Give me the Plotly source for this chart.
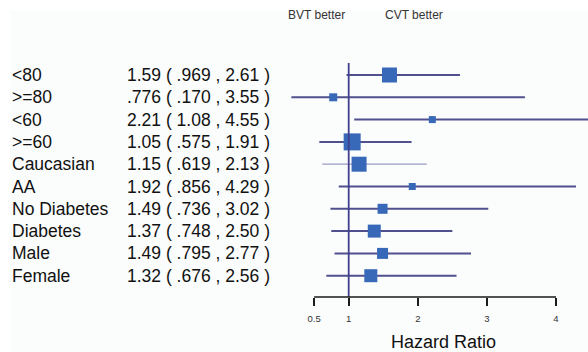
import plotly.graph_objects as go

# ---- data ----
labels = ["<80", ">=80", "<60", ">=60", "Caucasian", "AA",
          "No Diabetes", "Diabetes", "Male", "Female"]
hr = [1.59, 0.776, 2.21, 1.05, 1.15, 1.92, 1.49, 1.37, 1.49, 1.32]
lo = [0.969, 0.170, 1.08, 0.575, 0.619, 0.856, 0.736, 0.748, 0.795, 0.676]
hi = [2.61, 3.55, 4.55, 1.91, 2.13, 4.29, 3.02, 2.50, 2.77, 2.56]
value_text = ["1.59 ( .969 , 2.61 )", ".776 ( .170 , 3.55 )", "2.21 ( 1.08 , 4.55 )",
              "1.05 ( .575 , 1.91 )", "1.15 ( .619 , 2.13 )", "1.92 ( .856 , 4.29 )",
              "1.49 ( .736 , 3.02 )", "1.37 ( .748 , 2.50 )", "1.49 ( .795 , 2.77 )",
              "1.32 ( .676 , 2.56 )"]
weights = [15, 8, 7, 17, 15, 7, 10, 13, 11, 13]  # marker square sizes (study weight)
tick_vals = [0.5, 1, 2, 3, 4]
tick_text = ["0.5", "1", "2", "3", "4"]
ref_value = 1

W, H = 588, 352
FONT = "Liberation Sans, Arial, sans-serif"
rows = list(range(len(labels)))

fig = go.Figure()

# CI lines
for i in rows:
    light = labels[i] == "Caucasian"
    fig.add_trace(go.Scatter(
        x=[lo[i], hi[i]], y=[i, i], mode="lines",
        line=dict(color="#9a9ac4" if light else "#50508f", width=1.3 if light else 2),
        hoverinfo="skip", showlegend=False))

# point estimates
fig.add_trace(go.Scatter(
    x=hr, y=rows, mode="markers",
    marker=dict(symbol="square", size=weights, color="#3868b8", opacity=1,
                line=dict(width=0)),
    showlegend=False))

# reference line at HR = 1
fig.add_shape(type="line", x0=ref_value, x1=ref_value, y0=-0.54, y1=9.955,
              xref="x", yref="y", line=dict(color="#40408e", width=1.8), layer="above")

# axis line from first to last tick
fig.add_shape(type="line", x0=tick_vals[0], x1=tick_vals[-1], y0=0, y1=0,
              xref="x", yref="paper", line=dict(color="#1a1a1a", width=1.6))

# faint background panel
fig.add_shape(type="rect", x0=10 / W, x1=1.02, y0=-0.3, y1=(297 - 10) / 297,
              xref="paper", yref="paper", fillcolor="#fbfcfc",
              line=dict(width=0), layer="below")

# row texts
for i in rows:
    fig.add_annotation(x=10 / W, y=i, xref="paper", yref="y", text=labels[i],
                       showarrow=False, xanchor="left", yanchor="middle",
                       font=dict(family=FONT, size=17.5, color="#111"))
    fig.add_annotation(x=125 / W, y=i, xref="paper", yref="y", text=value_text[i],
                       showarrow=False, xanchor="left", yanchor="middle",
                       font=dict(family=FONT, size=17.5, color="#111"))

# header texts
fig.add_annotation(x=286 / W, y=(297 - 15) / 297, xref="paper", yref="paper",
                   text="BVT better", showarrow=False, xanchor="left", yanchor="middle",
                   font=dict(family=FONT, size=12, color="#333"))
fig.add_annotation(x=383 / W, y=(297 - 15) / 297, xref="paper", yref="paper",
                   text="CVT better", showarrow=False, xanchor="left", yanchor="middle",
                   font=dict(family=FONT, size=12, color="#333"))

# axis title
fig.add_annotation(x=444 / W, y=(297 - 342) / 297, xref="paper", yref="paper",
                   text="Hazard Ratio", showarrow=False, xanchor="center", yanchor="middle",
                   font=dict(family=FONT, size=18, color="#111"))

px_per_unit = 69.1
x_min = ref_value - 348.7 / px_per_unit
x_max = x_min + W / px_per_unit
row_px = 22.3
y_top = -75 / row_px
y_bot = (297 - 75) / row_px

fig.update_layout(
    width=W, height=H,
    margin=dict(l=0, r=0, t=0, b=55, autoexpand=False),
    paper_bgcolor="white", plot_bgcolor="rgba(0,0,0,0)",
    xaxis=dict(range=[x_min, x_max], tickvals=tick_vals, ticktext=tick_text,
               ticks="outside", ticklen=8, tickwidth=1.6, tickcolor="#1a1a1a",
               showline=False, showgrid=False, zeroline=False,
               tickfont=dict(family=FONT, size=9.5, color="#333"),
               ticklabelstandoff=5),
    yaxis=dict(range=[y_bot, y_top], visible=False, showgrid=False, zeroline=False),
    showlegend=False,
)

fig.write_html(
    "out.html",
    config={"displayModeBar": False},
    post_script="document.body.style.margin='0';document.body.style.padding='0';"
                "document.body.style.overflow='hidden';",
)
